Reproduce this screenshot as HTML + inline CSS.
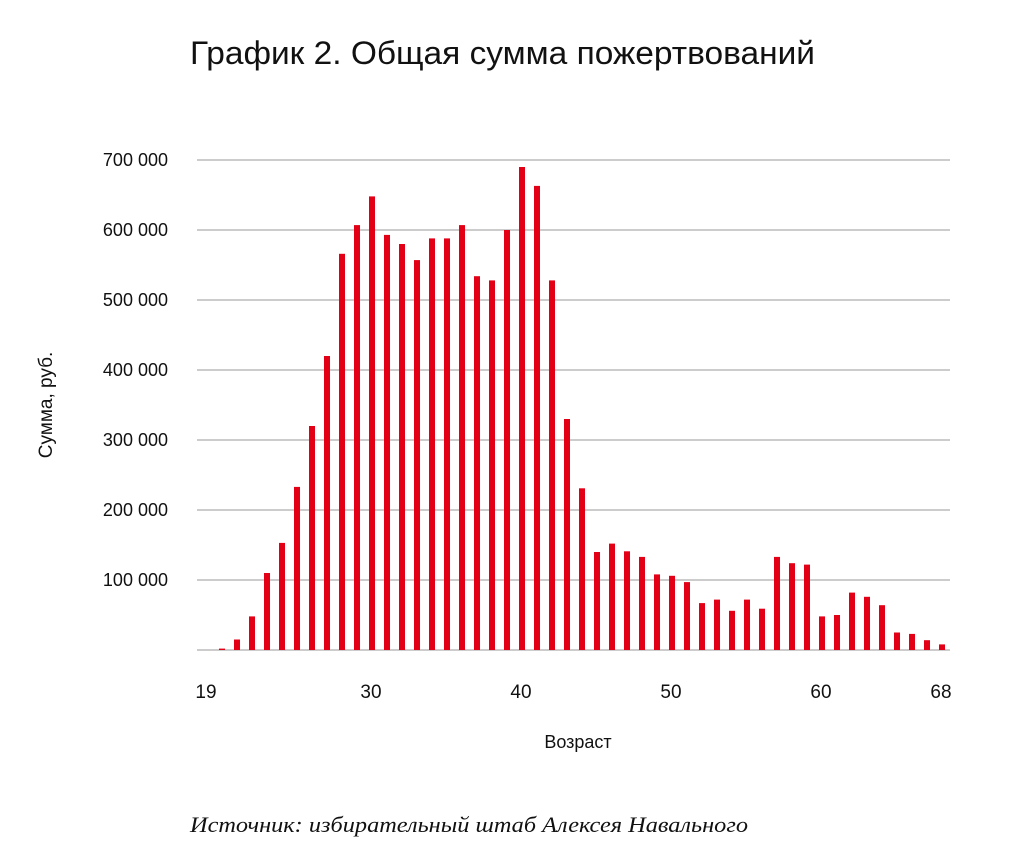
<!DOCTYPE html>
<html><head><meta charset="utf-8"><style>
body{margin:0;background:#fff;width:1024px;height:853px;overflow:hidden;font-family:"Liberation Sans",sans-serif}
</style></head><body>
<svg width="1024" height="853">
<text x="190" y="64" font-size="32" fill="#111" textLength="625" lengthAdjust="spacingAndGlyphs" font-family="Liberation Sans, sans-serif">График 2. Общая сумма пожертвований</text>
<g id="grid"></g>
<g id="ylabels"></g>
<g id="bars"></g>
<g id="xlabels"></g>
<text transform="translate(52,405) rotate(-90)" text-anchor="middle" font-size="19" fill="#111">Сумма, руб.</text>
<text x="578" y="748" text-anchor="middle" font-size="18" fill="#111">Возраст</text>
<text x="190" y="832" font-size="22" font-style="italic" fill="#111" textLength="558" lengthAdjust="spacingAndGlyphs" font-family="Liberation Serif, serif">Источник: избирательный штаб Алексея Навального</text>
</svg>
<script>
const ages=[20,21,22,23,24,25,26,27,28,29,30,31,32,33,34,35,36,37,38,39,40,41,42,43,44,45,46,47,48,49,50,51,52,53,54,55,56,57,58,59,60,61,62,63,64,65,66,67,68];
const values=[2000,15000,48000,110000,153000,233000,320000,420000,566000,607000,648000,593000,580000,557000,588000,588000,607000,534000,528000,600000,690000,663000,528000,330000,231000,140000,152000,141000,133000,108000,106000,97000,67000,72000,56000,72000,59000,133000,124000,122000,48000,50000,82000,76000,64000,25000,23000,14000,8000];
const yTicks=[100000,200000,300000,400000,500000,600000,700000];
const yTickLabels=["100 000","200 000","300 000","400 000","500 000","600 000","700 000"];
const xTicks=[19,30,40,50,60,68];
const NS="http://www.w3.org/2000/svg";
const x=a=>207+(a-19)*15;
const y=v=>650-v*(490/700000);
function mk(t,at,p){const e=document.createElementNS(NS,t);for(const k in at)e.setAttribute(k,at[k]);p.appendChild(e);return e;}
const grid=document.getElementById('grid'),yl=document.getElementById('ylabels'),bars=document.getElementById('bars'),xl=document.getElementById('xlabels');
const base=mk('line',{x1:197,x2:950,y1:y(0),y2:y(0),stroke:'#999','stroke-width':1},grid);


yTicks.forEach((v,i)=>{
 const l=mk('line',{x1:197,x2:950,y1:y(v),y2:y(v),stroke:'#999','stroke-width':1},grid);
 
 
 const t=mk('text',{x:168,y:y(v)+6,'text-anchor':'end','font-size':18,fill:'#111'},yl);
 t.textContent=yTickLabels[i];
 
 
});
ages.forEach((a,i)=>{
 const r=mk('rect',{x:x(a)-3,y:y(values[i]),width:6,height:y(0)-y(values[i]),fill:'#e30016'},bars);
 
 
});
xTicks.forEach(a=>{
 const t=mk('text',{x:x(a)-1,y:698,'text-anchor':'middle','font-size':19,fill:'#111'},xl);
 t.textContent=a;
 
 
});
</script>
</body></html>
